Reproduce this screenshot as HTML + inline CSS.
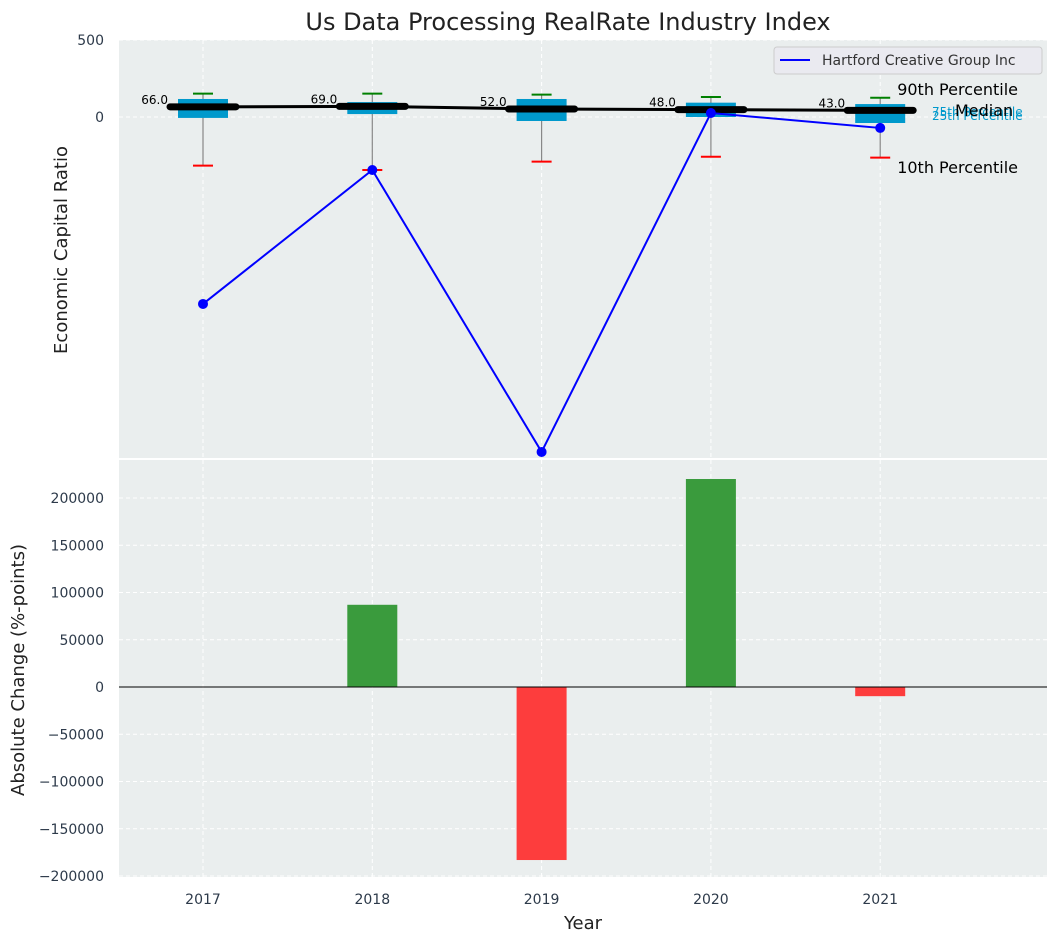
<!DOCTYPE html>
<html><head><meta charset="utf-8"><style>
body{margin:0;background:#fff;font-family:"Liberation Sans","DejaVu Sans",sans-serif;}
</style></head><body>
<svg id="c" width="1058" height="942" xmlns="http://www.w3.org/2000/svg" font-family="DejaVu Sans, Liberation Sans, sans-serif"></svg>
<script>
const years=["2017","2018","2019","2020","2021"];
const companyValues=[-1214,-344,-2175,26,-71];
const medians=[66,69,52,48,43];
const p75=[117,97,117,93,84];
const p25=[-6,19,-26,0,-39];
const p90=[152,152,145,130,125];
const p10=[-316,-344,-290,-258,-264];
const changes=[0,87000,-183100,220100,-9700];
const topTicks=[0,500];
const botTicks=[-200000,-150000,-100000,-50000,0,50000,100000,150000,200000];

const svg=document.getElementById('c');
const NS='http://www.w3.org/2000/svg';
function el(t,a,txt){const e=document.createElementNS(NS,t);for(const k in a)e.setAttribute(k,a[k]);if(txt!==undefined)e.textContent=txt;svg.appendChild(e);return e;}
const L=119,R=1047;
const x=i=>203+i*169.3;
const yT=v=>117-v*0.154;
const yB=v=>687-v*0.000945;

let e;
e=el('rect',{x:L,y:40,width:R-L,height:418,fill:'#eaeeee'});

e=el('rect',{x:L,y:460,width:R-L,height:417,fill:'#eaeeee'});

e=el('text',{x:568,y:30,'font-size':24,'text-anchor':'middle',fill:'#222'},'Us Data Processing RealRate Industry Index');


years.forEach((yr,i)=>{
  e=el('line',{x1:x(i),x2:x(i),y1:40,y2:458,stroke:'#fff','stroke-dasharray':'4,3'});
  
  e=el('line',{x1:x(i),x2:x(i),y1:460,y2:877,stroke:'#fff','stroke-dasharray':'4,3'});
  
  e=el('text',{x:x(i),y:904,'font-size':14,'text-anchor':'middle',fill:'#2d3a4a'},yr);
  
});
topTicks.forEach(v=>{
  e=el('line',{x1:L,x2:R,y1:yT(v),y2:yT(v),stroke:'#fff','stroke-dasharray':'4,3'});
  
  e=el('text',{x:104,y:yT(v)+5,'font-size':14,'text-anchor':'end',fill:'#2d3a4a'},String(v));
  
});
botTicks.forEach(v=>{
  e=el('line',{x1:L,x2:R,y1:yB(v),y2:yB(v),stroke:'#fff','stroke-dasharray':'4,3'});
  
  e=el('text',{x:104,y:yB(v)+5,'font-size':14,'text-anchor':'end',fill:'#2d3a4a'},v<0?'\u2212'+(-v):String(v));
  
});

years.forEach((yr,i)=>{
  const cx=x(i);
  e=el('line',{x1:cx,x2:cx,y1:yT(p90[i]),y2:yT(p10[i]),stroke:'#888','stroke-width':1.2});
  
  e=el('rect',{x:cx-25,y:yT(p75[i]),width:50,height:yT(p25[i])-yT(p75[i]),fill:'#0099cc'});
  
  e=el('line',{x1:cx-10,x2:cx+10,y1:yT(p90[i]),y2:yT(p90[i]),stroke:'green','stroke-width':2});
  
  e=el('line',{x1:cx-10,x2:cx+10,y1:yT(p10[i]),y2:yT(p10[i]),stroke:'red','stroke-width':2});
  
});
e=el('polyline',{points:years.map((_,i)=>x(i)+','+yT(medians[i])).join(' '),fill:'none',stroke:'#000','stroke-width':3});

years.forEach((yr,i)=>{
  const cx=x(i);
  e=el('line',{x1:cx-33,x2:cx+33,y1:yT(medians[i]),y2:yT(medians[i]),stroke:'#000','stroke-width':7,'stroke-linecap':'round'});
  
  e=el('text',{x:cx-35,y:yT(medians[i])-3,'font-size':12,'text-anchor':'end',fill:'#000'},medians[i].toFixed(1));
  
});
e=el('polyline',{points:years.map((_,i)=>x(i)+','+yT(companyValues[i])).join(' '),fill:'none',stroke:'#0000ff','stroke-width':2});

years.forEach((yr,i)=>{
  e=el('circle',{cx:x(i),cy:yT(companyValues[i]),r:5,fill:'#0000ff'});
  
});
const lx=x(4)+17;
e=el('text',{x:lx,y:95,'font-size':16,fill:'#000'},'90th Percentile');

e=el('text',{x:932,y:116,'font-size':12,fill:'#0099cc'},'75th Percentile');

e=el('text',{x:932,y:120,'font-size':12,fill:'#0099cc'},'25th Percentile');

e=el('text',{x:955,y:116,'font-size':16,fill:'#000'},'Median');

e=el('text',{x:lx,y:173,'font-size':16,fill:'#000'},'10th Percentile');

e=el('rect',{x:774,y:47,width:268,height:27,rx:3,fill:'#eaeaf0',stroke:'#ccc'});

e=el('line',{x1:780,x2:810,y1:60,y2:60,stroke:'#0000ff','stroke-width':2});

e=el('text',{x:822,y:65,'font-size':14,fill:'#333'},'Hartford Creative Group Inc');


years.forEach((yr,i)=>{
  const v=changes[i];if(v===0)return;
  const y0=yB(0),y1=yB(v);
  e=el('rect',{x:x(i)-25,y:Math.min(y0,y1),width:50,height:Math.abs(y1-y0),fill:v>0?'#3a9b3d':'#fd3d3d'});
  
});
e=el('line',{x1:L,x2:R,y1:yB(0),y2:yB(0),stroke:'#000','stroke-width':1});


e=el('text',{x:67,y:250,'font-size':18,'text-anchor':'middle',fill:'#222',transform:'rotate(-90 67 250)'},'Economic Capital Ratio');

e=el('text',{x:24,y:670,'font-size':18,'text-anchor':'middle',fill:'#222',transform:'rotate(-90 24 670)'},'Absolute Change (%-points)');

e=el('text',{x:583,y:929,'font-size':18,'text-anchor':'middle',fill:'#222'},'Year');

</script>
</body></html>
